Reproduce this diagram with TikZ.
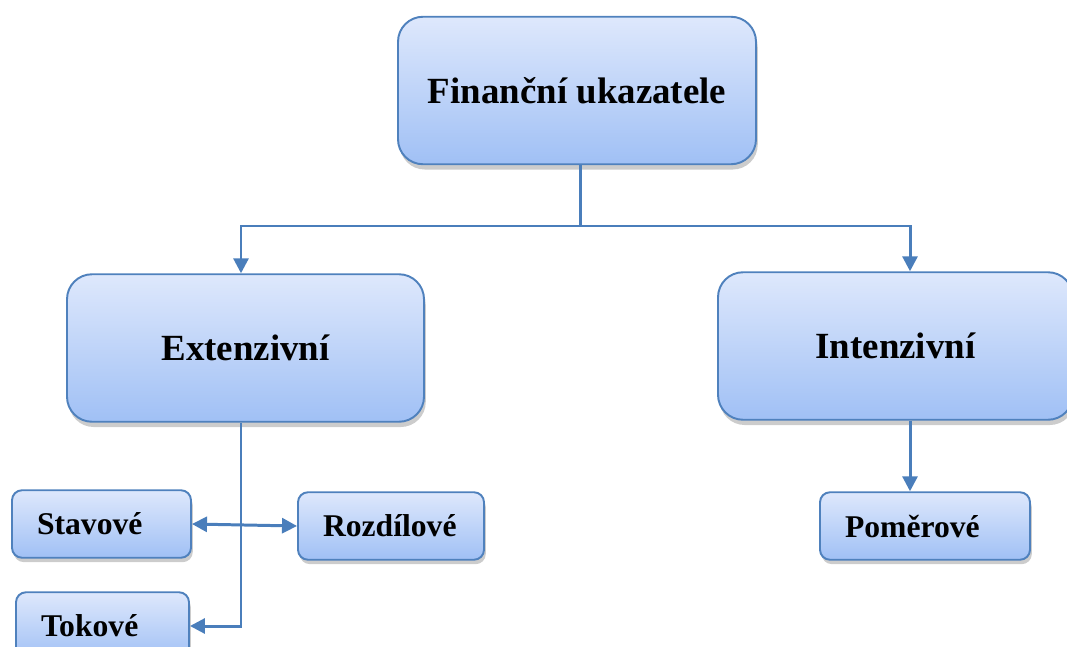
\documentclass[tikz,border=0pt]{standalone}
\usepackage{fontspec}
\setmainfont{Liberation Serif}
\usetikzlibrary{arrows.meta,shadows}

\definecolor{boxline}{RGB}{79,129,189}
\definecolor{boxtop}{RGB}{222,232,252}
\definecolor{boxbot}{RGB}{160,192,245}
\definecolor{link}{RGB}{74,126,187}

\begin{document}
\begin{tikzpicture}[line width=1.4pt, nodes = {align = center}, >={Triangle[length=0.3cm, width=0.3cm]}]

  \tikzstyle{bigbox}=[draw=boxline, line width=1.1pt, rectangle, rounded corners=0.5cm, top color=boxtop, bottom color=boxbot, drop shadow={shadow xshift=1pt, shadow yshift=-3pt, opacity=0.4}, font=\fontsize{21}{25}\selectfont\bfseries, minimum height=2.95cm]
  \tikzstyle{smallbox}=[draw=boxline, line width=1.1pt, rectangle, rounded corners=0.2cm, top color=boxtop, bottom color=boxbot, drop shadow={shadow xshift=1pt, shadow yshift=-2.5pt, opacity=0.4}, font=\fontsize{18}{22}\selectfont\bfseries, minimum height=1.35cm, inner xsep=0.5cm, align=left]
  \tikzstyle{link}=[draw=link, line width=1.7pt]

  \useasboundingbox (0,0) rectangle (21.34,12.92);
  \clip (0,0) rectangle (21.34,12.92);

  % Top
  \node[bigbox, minimum width=7.16cm] (fin) at (11.54,11.11) {Finanční ukazatele};

  % Second level
  \node[bigbox, minimum width=7.14cm] (ext) at (4.91,5.96) {Extenzivní};
  \node[bigbox, minimum width=7.1cm] (int) at (17.91,6.0) {Intenzivní};

  % Third level
  \node[smallbox, text width=2.58cm] (stav) at (2.03,2.44) {Stavové};
  \node[smallbox, text width=2.72cm] (rozd) at (7.82,2.40) {Rozdílové};
  \node[smallbox, text width=2.46cm] (tok) at (2.05,0.40) {Tokové};
  \node[smallbox, text width=3.2cm] (pom) at (18.5,2.40) {Poměrové};

  % Helper points
  \coordinate (split) at (11.6,8.4);
  \coordinate (xe) at (4.82,0);
  \coordinate (xi) at (18.2,0);

  % Lines from top
  \draw[link] (fin.south -| split) -- (split);
  \draw[link, ->] (split) -| (ext.north -| xe);
  \draw[link, ->] (split) -| (int.north -| xi);

  % Lines below Extenzivni
  \draw[link, ->] (ext.south -| xe) |- (tok.east);
  \draw[link, <->] (stav.east) -- (rozd.west);

  % Line below Intenzivni
  \draw[link, ->] (int.south -| xi) -- (pom.north -| xi);

\end{tikzpicture}
\end{document}
